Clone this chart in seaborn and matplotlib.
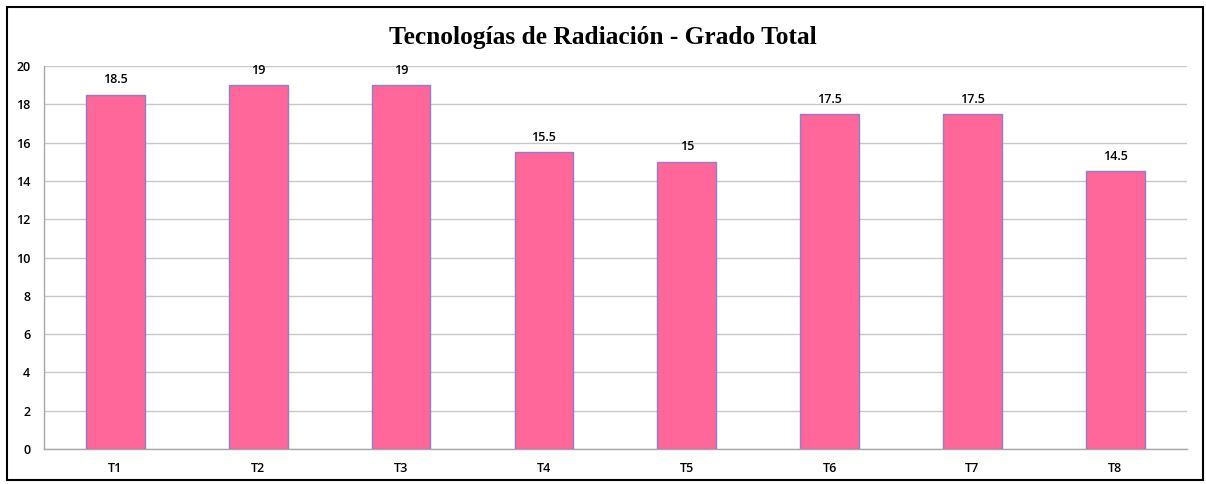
import numpy as np
import pandas as pd
import matplotlib
matplotlib.use("Agg")
import matplotlib.pyplot as plt
import seaborn as sns
from matplotlib.patches import Rectangle

categories = ["T1", "T2", "T3", "T4", "T5", "T6", "T7", "T8"]
values = [18.5, 19, 19, 15.5, 15, 17.5, 17.5, 14.5]
yticks = list(range(0, 21, 2))

df = pd.DataFrame(dict(tech=categories, grado=values))

sns.set_style("white")
plt.rcParams["text.color"] = "black"
plt.rcParams["xtick.labelcolor"] = "black"
plt.rcParams["ytick.labelcolor"] = "black"

fig = plt.figure(figsize=(12.06, 4.84), dpi=100)
ax = fig.add_axes([0.0365, 0.0723, 0.9475, 0.7913])

sns.barplot(data=df, x="tech", y="grado", color="#FF6699", saturation=1,
            width=0.41, edgecolor="#8C7FCC", linewidth=1.0, ax=ax, zorder=3)

ax.set_xlim(-0.5, len(categories) - 0.5)
ax.set_ylim(0, 20)
ax.set_yticks(yticks)
ax.set_xlabel("")
ax.set_ylabel("")
ax.yaxis.grid(True, color="#C8C8C8", linewidth=1.0, zorder=0)
ax.set_axisbelow(True)

for side in ["top", "right"]:
    ax.spines[side].set_visible(False)
for side in ["left", "bottom"]:
    ax.spines[side].set_color("#A8A8A8")
    ax.spines[side].set_linewidth(1.0)

ax.tick_params(axis="x", which="major", length=0, pad=9, labelsize=9)
ax.set_xticks(np.arange(-0.5, len(categories), 1), minor=True)
ax.tick_params(axis="x", which="minor", length=4, color="#A8A8A8", direction="out")
ax.tick_params(axis="y", length=4, color="#A8A8A8", direction="out", pad=6, labelsize=9)
for lab in ax.get_xticklabels() + ax.get_yticklabels():
    lab.set_fontfamily("Open Sans")
    lab.set_fontweight("semibold")

ax.bar_label(ax.containers[0], fmt="%g", padding=6, fontsize=9,
             fontfamily="Open Sans", fontweight="semibold", color="black")

fig.text(0.5, 0.922, "Tecnologías de Radiación - Grado Total", ha="center",
         va="center", fontsize=18.3, fontweight="bold", color="black",
         fontfamily="Liberation Serif")

fig.patches.append(Rectangle((7 / 1206, 4 / 484), 1196 / 1206, 473 / 484,
                             transform=fig.transFigure, fill=False,
                             edgecolor="black", linewidth=1.5))

fig.savefig("out.png", dpi=100)
